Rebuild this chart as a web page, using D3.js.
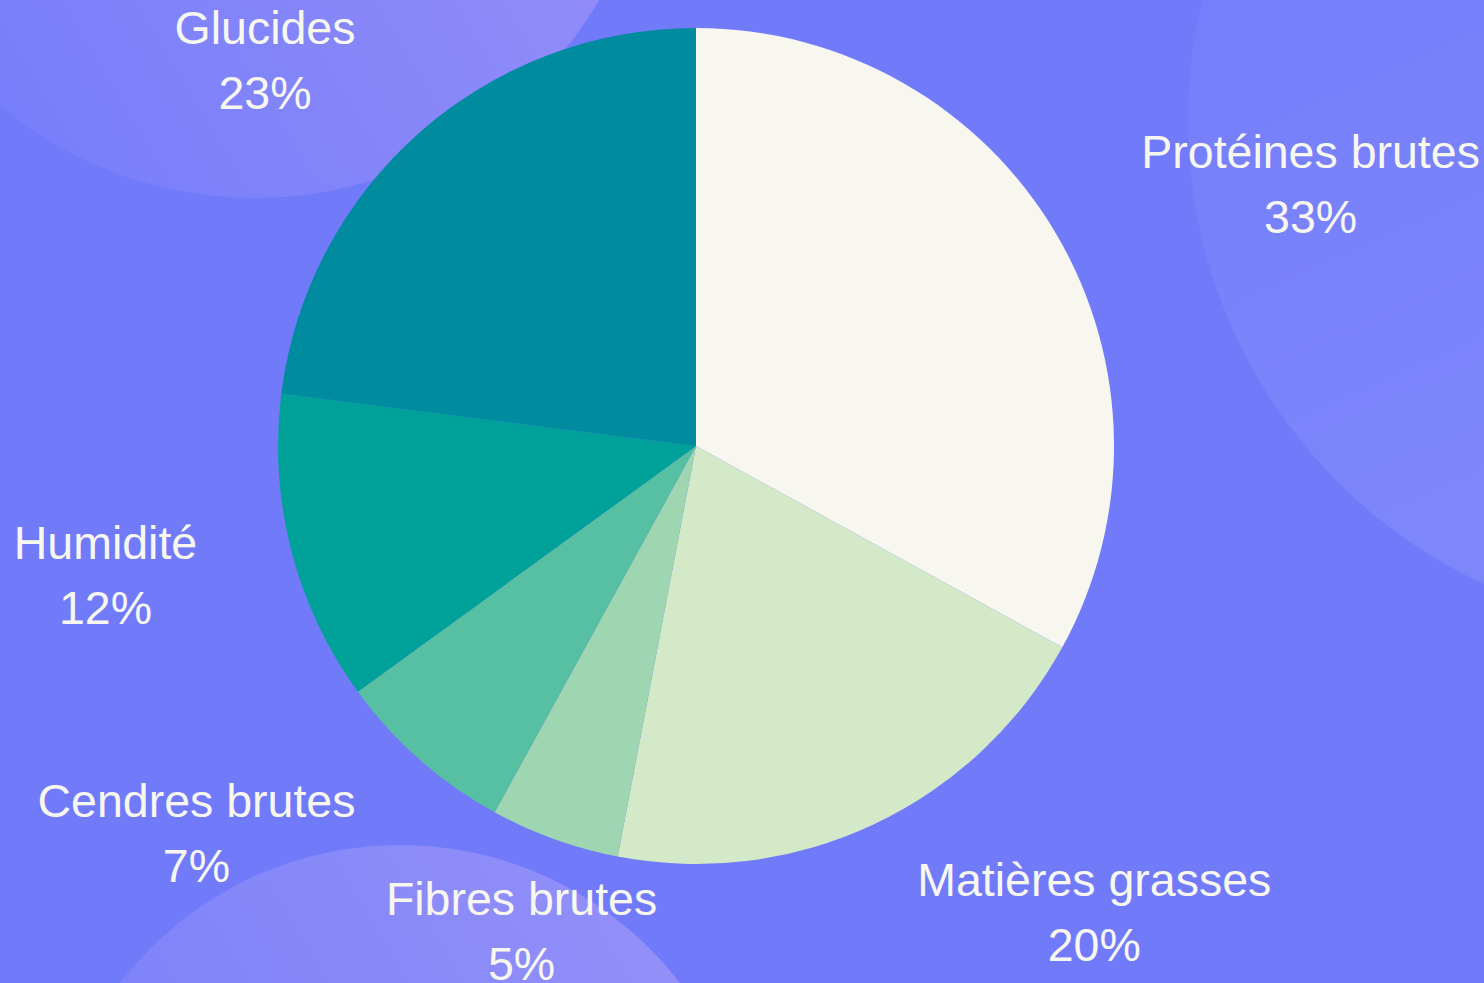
<!DOCTYPE html>
<html>
<head>
<meta charset="utf-8">
<script src="https://cdn.jsdelivr.net/npm/d3@7"></script>
<style>
  html, body { margin: 0; padding: 0; background: #717bfa; }
  svg { display: block; }
</style>
</head>
<body>
<div class="chart"></div>
<script>
const width = 1484;
const height = 983;

// data
const categories = ['Protéines brutes', 'Matières grasses', 'Fibres brutes', 'Cendres brutes', 'Humidité', 'Glucides'];
const values = [33, 20, 5, 7, 12, 23];
const colors = ['#f7f7ef', '#d3e9c7', '#9dd6b0', '#57c0a3', '#00a198', '#008b9f'];

const cx = 696;
const cy = 446;
const radius = 418;
const labelRadius = 515;

const svg = d3.select('.chart')
  .append('svg')
  .attr('width', width)
  .attr('height', height)
  .attr('viewBox', '0, 0, ' + width + ', ' + height);

const defs = svg.append('defs');

// decorative blobs in the background
const blobs = [
  {id: 'g1', x: 255, y: -200, r: 398, x1: '0%', y1: '80%', x2: '100%', y2: '20%', c: '#f0bef5', a0: 0.02, a1: 0.34},
  {id: 'g2', x: 1700, y: 120, r: 512, x1: '20%', y1: '0%', x2: '60%', y2: '90%', c: '#ffffff', a0: 0.0, a1: 0.1},
  {id: 'g3', x: 400, y: 1198, r: 353, x1: '0%', y1: '80%', x2: '100%', y2: '20%', c: '#f0c8f5', a0: 0.02, a1: 0.28}
];

blobs.forEach((b) => {
  const g = defs.append('linearGradient')
    .attr('id', b.id)
    .attr('x1', b.x1).attr('y1', b.y1)
    .attr('x2', b.x2).attr('y2', b.y2);
  g.append('stop').attr('offset', '0%').attr('stop-color', b.c).attr('stop-opacity', b.a0);
  g.append('stop').attr('offset', '100%').attr('stop-color', b.c).attr('stop-opacity', b.a1);
});

svg.append('rect')
  .attr('width', width)
  .attr('height', height)
  .attr('fill', '#717bfa');

svg.selectAll('.blob')
  .data(blobs)
  .enter()
  .append('circle')
  .attr('class', 'blob')
  .attr('cx', (d) => d.x)
  .attr('cy', (d) => d.y)
  .attr('r', (d) => d.r)
  .attr('fill', (d) => 'url(#' + d.id + ')');

// pie
const pie = d3.pie().sort(null).value((d) => d.value);
const arc = d3.arc().innerRadius(0).outerRadius(radius);

const data = categories.map((c, i) => ({name: c, value: values[i], color: colors[i]}));
const arcs = pie(data);

const g = svg.append('g').attr('transform', 'translate(' + cx + ',' + cy + ')');

g.selectAll('.slice')
  .data(arcs)
  .enter()
  .append('path')
  .attr('class', 'slice')
  .attr('d', arc)
  .attr('fill', (d) => d.data.color);

// labels
const total = d3.sum(values);
const fontSize = 46.5;
const lineGap = 65;

const labels = g.selectAll('.label')
  .data(arcs)
  .enter()
  .append('g')
  .attr('class', 'label')
  .style('font-family', '"Liberation Sans", Arial, sans-serif')
  .style('font-size', fontSize + 'px')
  .attr('fill', '#f7f7ef');

labels.each(function (d) {
  const mid = (d.startAngle + d.endAngle) / 2;
  const sx = Math.sin(mid);
  const x = labelRadius * sx;
  const y = -labelRadius * Math.cos(mid);
  const sel = d3.select(this);

  const t1 = sel.append('text').text(d.data.name).attr('y', y - 15.5);
  const t2 = sel.append('text').text(Math.round(d.data.value / total * 100) + '%').attr('y', y - 15.5 + lineGap);

  const w = Math.max(t1.node().getComputedTextLength(), t2.node().getComputedTextLength());
  let mx;
  if (Math.abs(sx) < 0.4) mx = x;
  else if (sx > 0) mx = x + 2 + w / 2;
  else mx = x - w / 2;

  t1.attr('x', mx).attr('text-anchor', 'middle');
  t2.attr('x', mx).attr('text-anchor', 'middle');
});
</script>
</body>
</html>
